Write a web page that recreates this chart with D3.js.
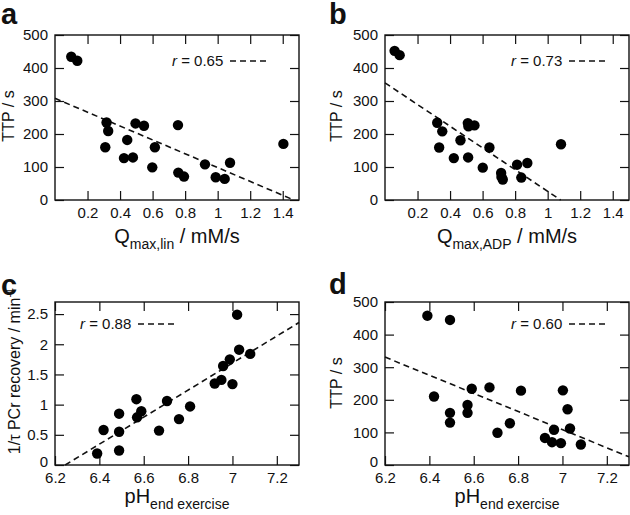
<!DOCTYPE html>
<html><head><meta charset="utf-8">
<script src="https://cdn.jsdelivr.net/npm/d3@7"></script>
<style>
body{margin:0;background:#fff}
text{font-family:"Liberation Sans",Arial,Helvetica,sans-serif;fill:#111}
</style>
</head><body>
<svg id="chart" width="630" height="515"></svg>
<script>
// ---- data ----
const qmaxLin = [0.100,0.137,0.317,0.327,0.309,0.424,0.444,0.479,0.495,0.547,0.598,0.614,0.756,0.758,0.793,0.922,0.988,1.043,1.076,1.404];
const ttpA    = [434,422,235,209,160,127,182,129,232,225,99,160,227,83,71,108,69,64,113,170];

const qmaxAdp = [0.059,0.090,0.321,0.352,0.333,0.423,0.464,0.511,0.509,0.513,0.550,0.601,0.642,0.714,0.716,0.724,0.812,0.838,0.875,1.082];
const ttpB    = [452,439,234,208,159,127,181,129,233,223,226,98,159,82,70,62,107,68,112,169];

const phC   = [6.390,6.419,6.489,6.489,6.489,6.567,6.570,6.589,6.669,6.705,6.759,6.809,6.920,6.950,6.958,6.988,7.000,7.021,7.030,7.080];
const rateC = [0.19,0.58,0.24,0.55,0.85,1.09,0.79,0.89,0.57,1.06,0.76,0.97,1.35,1.41,1.64,1.75,1.34,2.49,1.91,1.84];

const phD  = [6.391,6.493,6.421,6.493,6.493,6.572,6.572,6.591,6.671,6.707,6.763,6.813,6.921,6.953,6.962,6.993,7.002,7.023,7.034,7.083];
const ttpD = [458,445,210,160,130,184,160,234,238,99,128,228,83,70,108,67,229,171,112,63];

// regression line end points
const fitAx = [0, 1.468], fitAy = [308, 0];
const fitBx = [0, 1.080], fitBy = [355, 0];
const fitCx = [6.246, 7.3], fitCy = [0, 2.36];
const fitDx = [6.2, 7.3],  fitDy = [331, 25];

const rLabels = ["0.65", "0.73", "0.88", "0.60"];
const panelLetters = ["a", "b", "c", "d"];

const qTicks = [0.2,0.4,0.6,0.8,1.0,1.2,1.4];
const phTicks = [6.2,6.4,6.6,6.8,7.0,7.2];
const ttpTicks = [0,100,200,300,400,500];
const rateTicks = [0,0.5,1,1.5,2,2.5];

// ---- drawing ----
const svg = d3.select("#chart");
const TL = 9;
const fmt = d => String(+(+d).toFixed(1));

function panel(c) {
  const g = svg.append("g");
  const x = d3.scaleLinear().domain(c.xDomain).range([c.left, c.right]);
  const y = d3.scaleLinear().domain(c.yDomain).range([c.bottom, c.top]);

  const axB = g.append("g").attr("transform", `translate(0,${c.bottom})`)
    .call(d3.axisBottom(x).tickValues(c.xTicks).tickSize(-TL).tickPadding(7).tickFormat(fmt));
  const axT = g.append("g").attr("transform", `translate(0,${c.top})`)
    .call(d3.axisTop(x).tickValues(c.xTicks).tickSize(-TL).tickFormat(""));
  const axL = g.append("g").attr("transform", `translate(${c.left},0)`)
    .call(d3.axisLeft(y).tickValues(c.yTicks).tickSize(-TL).tickPadding(7).tickFormat(fmt));
  const axR = g.append("g").attr("transform", `translate(${c.right},0)`)
    .call(d3.axisRight(y).tickValues(c.yTicks).tickSize(-TL).tickFormat(""));
  [axB, axT, axL, axR].forEach(a => {
    a.select(".domain").remove();
    a.selectAll("line").attr("stroke", "#111").attr("stroke-width", 1.2);
    a.selectAll("text").attr("font-size", 15).attr("fill", "#111")
      .style("font-family", '"Liberation Sans",Arial,sans-serif');
  });
  // lift the bottom-most y label slightly where the x labels start at the corner
  if (c.liftZero) axL.selectAll(".tick").filter(d => d === 0).select("text").attr("dy", "0.1em");

  g.append("rect").attr("x", c.left).attr("y", c.top)
    .attr("width", c.right - c.left).attr("height", c.bottom - c.top)
    .attr("fill", "none").attr("stroke", "#111").attr("stroke-width", 1.4);

  // fit line
  const line = d3.line().x(d => x(d[0])).y(d => y(d[1]));
  g.append("path").datum(d3.zip(c.fitX, c.fitY)).attr("d", line)
    .attr("fill", "none").attr("stroke", "#111").attr("stroke-width", 1.6)
    .attr("stroke-dasharray", "6,4");

  // points
  g.selectAll("circle.pt").data(d3.zip(c.xs, c.ys)).join("circle")
    .attr("class", "pt").attr("cx", d => x(d[0])).attr("cy", d => y(d[1]))
    .attr("r", 5.2).attr("fill", "#000");

  // legend
  const lt = g.append("text").attr("x", c.legX).attr("y", c.legY + 5).attr("font-size", 15);
  lt.append("tspan").attr("font-style", "italic").text("r");
  lt.append("tspan").text(" = " + c.r);
  g.append("line").attr("x1", c.legX + 58).attr("x2", c.legX + 97)
    .attr("y1", c.legY).attr("y2", c.legY)
    .attr("stroke", "#111").attr("stroke-width", 1.6).attr("stroke-dasharray", "6,4");

  // panel letter
  g.append("text").attr("x", c.letX).attr("y", c.letY)
    .attr("font-size", 29).attr("font-weight", "bold").attr("fill", "#000").text(c.letter);

  // y title
  const yt = g.append("text")
    .attr("transform", `translate(${c.yTitleX},${c.yTitleY}) rotate(-90)`)
    .attr("text-anchor", "middle").attr("font-size", 16);
  c.yTitle(yt);

  // x title
  const xt = g.append("text").attr("x", (c.left + c.right) / 2).attr("y", c.xTitleY)
    .attr("text-anchor", "middle").attr("font-size", 20);
  xt.append("tspan").text(c.xMain);
  xt.append("tspan").attr("font-size", 14).attr("dy", 6).text(c.xSub);
  if (c.xTail) xt.append("tspan").attr("dy", -6).text(c.xTail);
}

const ttpTitle = t => t.text("TTP / s");

panel({left:55, right:299, top:35, bottom:200, xDomain:[0,1.5], yDomain:[0,500],
  xTicks:qTicks, yTicks:ttpTicks, xs:qmaxLin, ys:ttpA, fitX:fitAx, fitY:fitAy,
  r:rLabels[0], legX:172, legY:61, letter:panelLetters[0], letX:1, letY:24,
  yTitle:ttpTitle, yTitleX:14, yTitleY:116, xMain:"Q", xSub:"max,lin", xTail:" / mM/s", xTitleY:243});

panel({left:385, right:629, top:35, bottom:200, xDomain:[0,1.5], yDomain:[0,500],
  xTicks:qTicks, yTicks:ttpTicks, xs:qmaxAdp, ys:ttpB, fitX:fitBx, fitY:fitBy,
  r:rLabels[1], legX:511, legY:61, letter:panelLetters[1], letX:329, letY:24,
  yTitle:ttpTitle, yTitleX:342, yTitleY:116, xMain:"Q", xSub:"max,ADP", xTail:" / mM/s", xTitleY:243});

panel({left:55, right:299, top:302, bottom:465, xDomain:[6.2,7.3], yDomain:[0,2.7],
  xTicks:phTicks, yTicks:rateTicks, xs:phC, ys:rateC, fitX:fitCx, fitY:fitCy, liftZero:true,
  r:rLabels[2], legX:80, legY:324, letter:panelLetters[2], letX:1, letY:295,
  yTitle: t => { t.append("tspan").text("1/\u03C4 PCr recovery / min");
                 t.append("tspan").attr("font-size", 11).attr("dy", -7).text("-1"); },
  yTitleX:20, yTitleY:371, xMain:"pH", xSub:"end exercise", xTail:null, xTitleY:503});

panel({left:385, right:629, top:302, bottom:465, xDomain:[6.2,7.3], yDomain:[0,500],
  xTicks:phTicks, yTicks:ttpTicks, xs:phD, ys:ttpD, fitX:fitDx, fitY:fitDy, liftZero:true,
  r:rLabels[3], legX:511, legY:324, letter:panelLetters[3], letX:329, letY:294,
  yTitle:ttpTitle, yTitleX:342, yTitleY:383, xMain:"pH", xSub:"end exercise", xTail:null, xTitleY:503});
</script>
</body></html>
